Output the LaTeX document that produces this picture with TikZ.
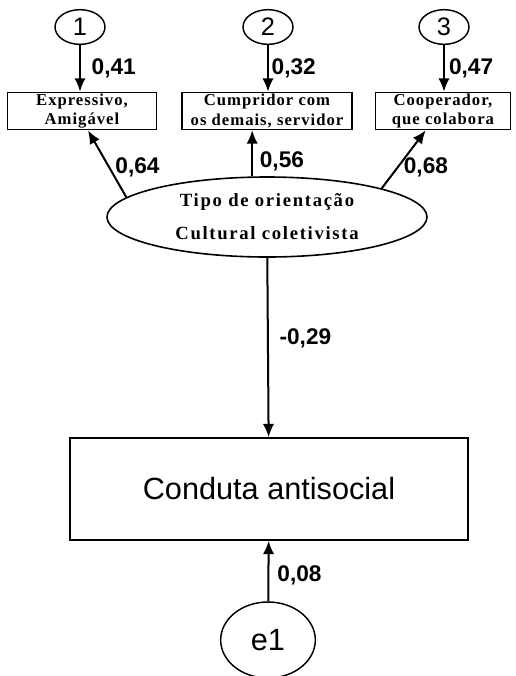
\documentclass[tikz,border=0pt]{standalone}
\usepackage{fontspec}
\setmainfont{Liberation Serif}
\setsansfont{Liberation Sans}
\usetikzlibrary{arrows.meta,shapes.geometric}
\tikzset{
  erro/.style={ellipse, draw, line width=1.1pt, minimum width=37.5pt, minimum height=26pt,
    inner sep=0pt, font=\sffamily\fontsize{19}{19}\selectfont},
  item/.style={rectangle, draw, line width=1.2pt, minimum height=27.75pt, inner sep=1pt,
    align=center, font=\bfseries\fontsize{12.5}{14.5}\selectfont\addfontfeatures{LetterSpace=6}},
  fator/.style={ellipse, draw, line width=1.2pt, minimum width=240pt, minimum height=60pt,
    inner sep=0pt, align=center, font=\bfseries\fontsize{14}{24.75}\selectfont\addfontfeatures{LetterSpace=9}},
  caixa/.style={rectangle, draw, line width=1.2pt, font=\sffamily\fontsize{23}{23}\selectfont},
  carga/.style={font=\sffamily\bfseries\fontsize{17}{17}\selectfont, inner sep=2pt},
  seta/.style={line width=1.5pt, -{Latex[length=10pt,width=8.5pt]}},
}
\begin{document}
\begin{tikzpicture}[x=0.75pt, y=-0.75pt]
  \useasboundingbox (0,0) rectangle (516,676);
  % erros e itens
  \node[erro] (c1) at (80,27) {1};
  \node[erro] (c2) at (268,27) {2};
  \node[erro] (c3) at (444,27) {3};
  \node[item, minimum width=111.75pt] (b1) at (82,111) {Expressivo,\\Amigável};
  \node[item, minimum width=127.5pt] (b2) at (267,111) {Cumpridor com\\os demais, servidor};
  \node[item, minimum width=101.25pt] (b3) at (443,111) {Cooperador,\\que colabora};
  % fator latente
  \node[fator] (lat) at (267,217) {Tipo de orientação\\Cultural coletivista};
  \node[caixa, minimum width=298.5pt, minimum height=76.5pt] (conduta) at (269,489) {Conduta antisocial};
  \node[erro, minimum width=71pt, minimum height=57pt, font=\sffamily\fontsize{23}{23}\selectfont] (e1) at (268,640) {e1};
  % cargas
  \draw[seta] (c1) -- node[carga, right=6pt] {0,41} (c1 |- b1.north);
  \draw[seta] (c2) -- node[carga, right=0pt] {0,32} (c2 |- b2.north);
  \draw[seta] (c3) -- node[carga, right=1pt] {0,47} (c3 |- b3.north);
  \draw[seta] (lat.172) -- node[carga, pos=0.45, right=2pt] {0,64} ([xshift=4.5pt]b1.south);
  \draw[seta] (lat.110) -- node[carga, pos=0.33, right=3pt] {0,56} (lat.110 |- b2.south);
  \draw[seta] (lat.14) -- node[carga, pos=0.36, right=2pt] {0,68} ([xshift=-13pt]b3.south);
  \draw[seta] (lat) -- node[carga, pos=0.45, right=6pt] {-0,29} (conduta);
  \draw[seta] (e1) -- node[carga, pos=0.43, right=4pt] {0,08} (conduta);
\end{tikzpicture}
\end{document}
